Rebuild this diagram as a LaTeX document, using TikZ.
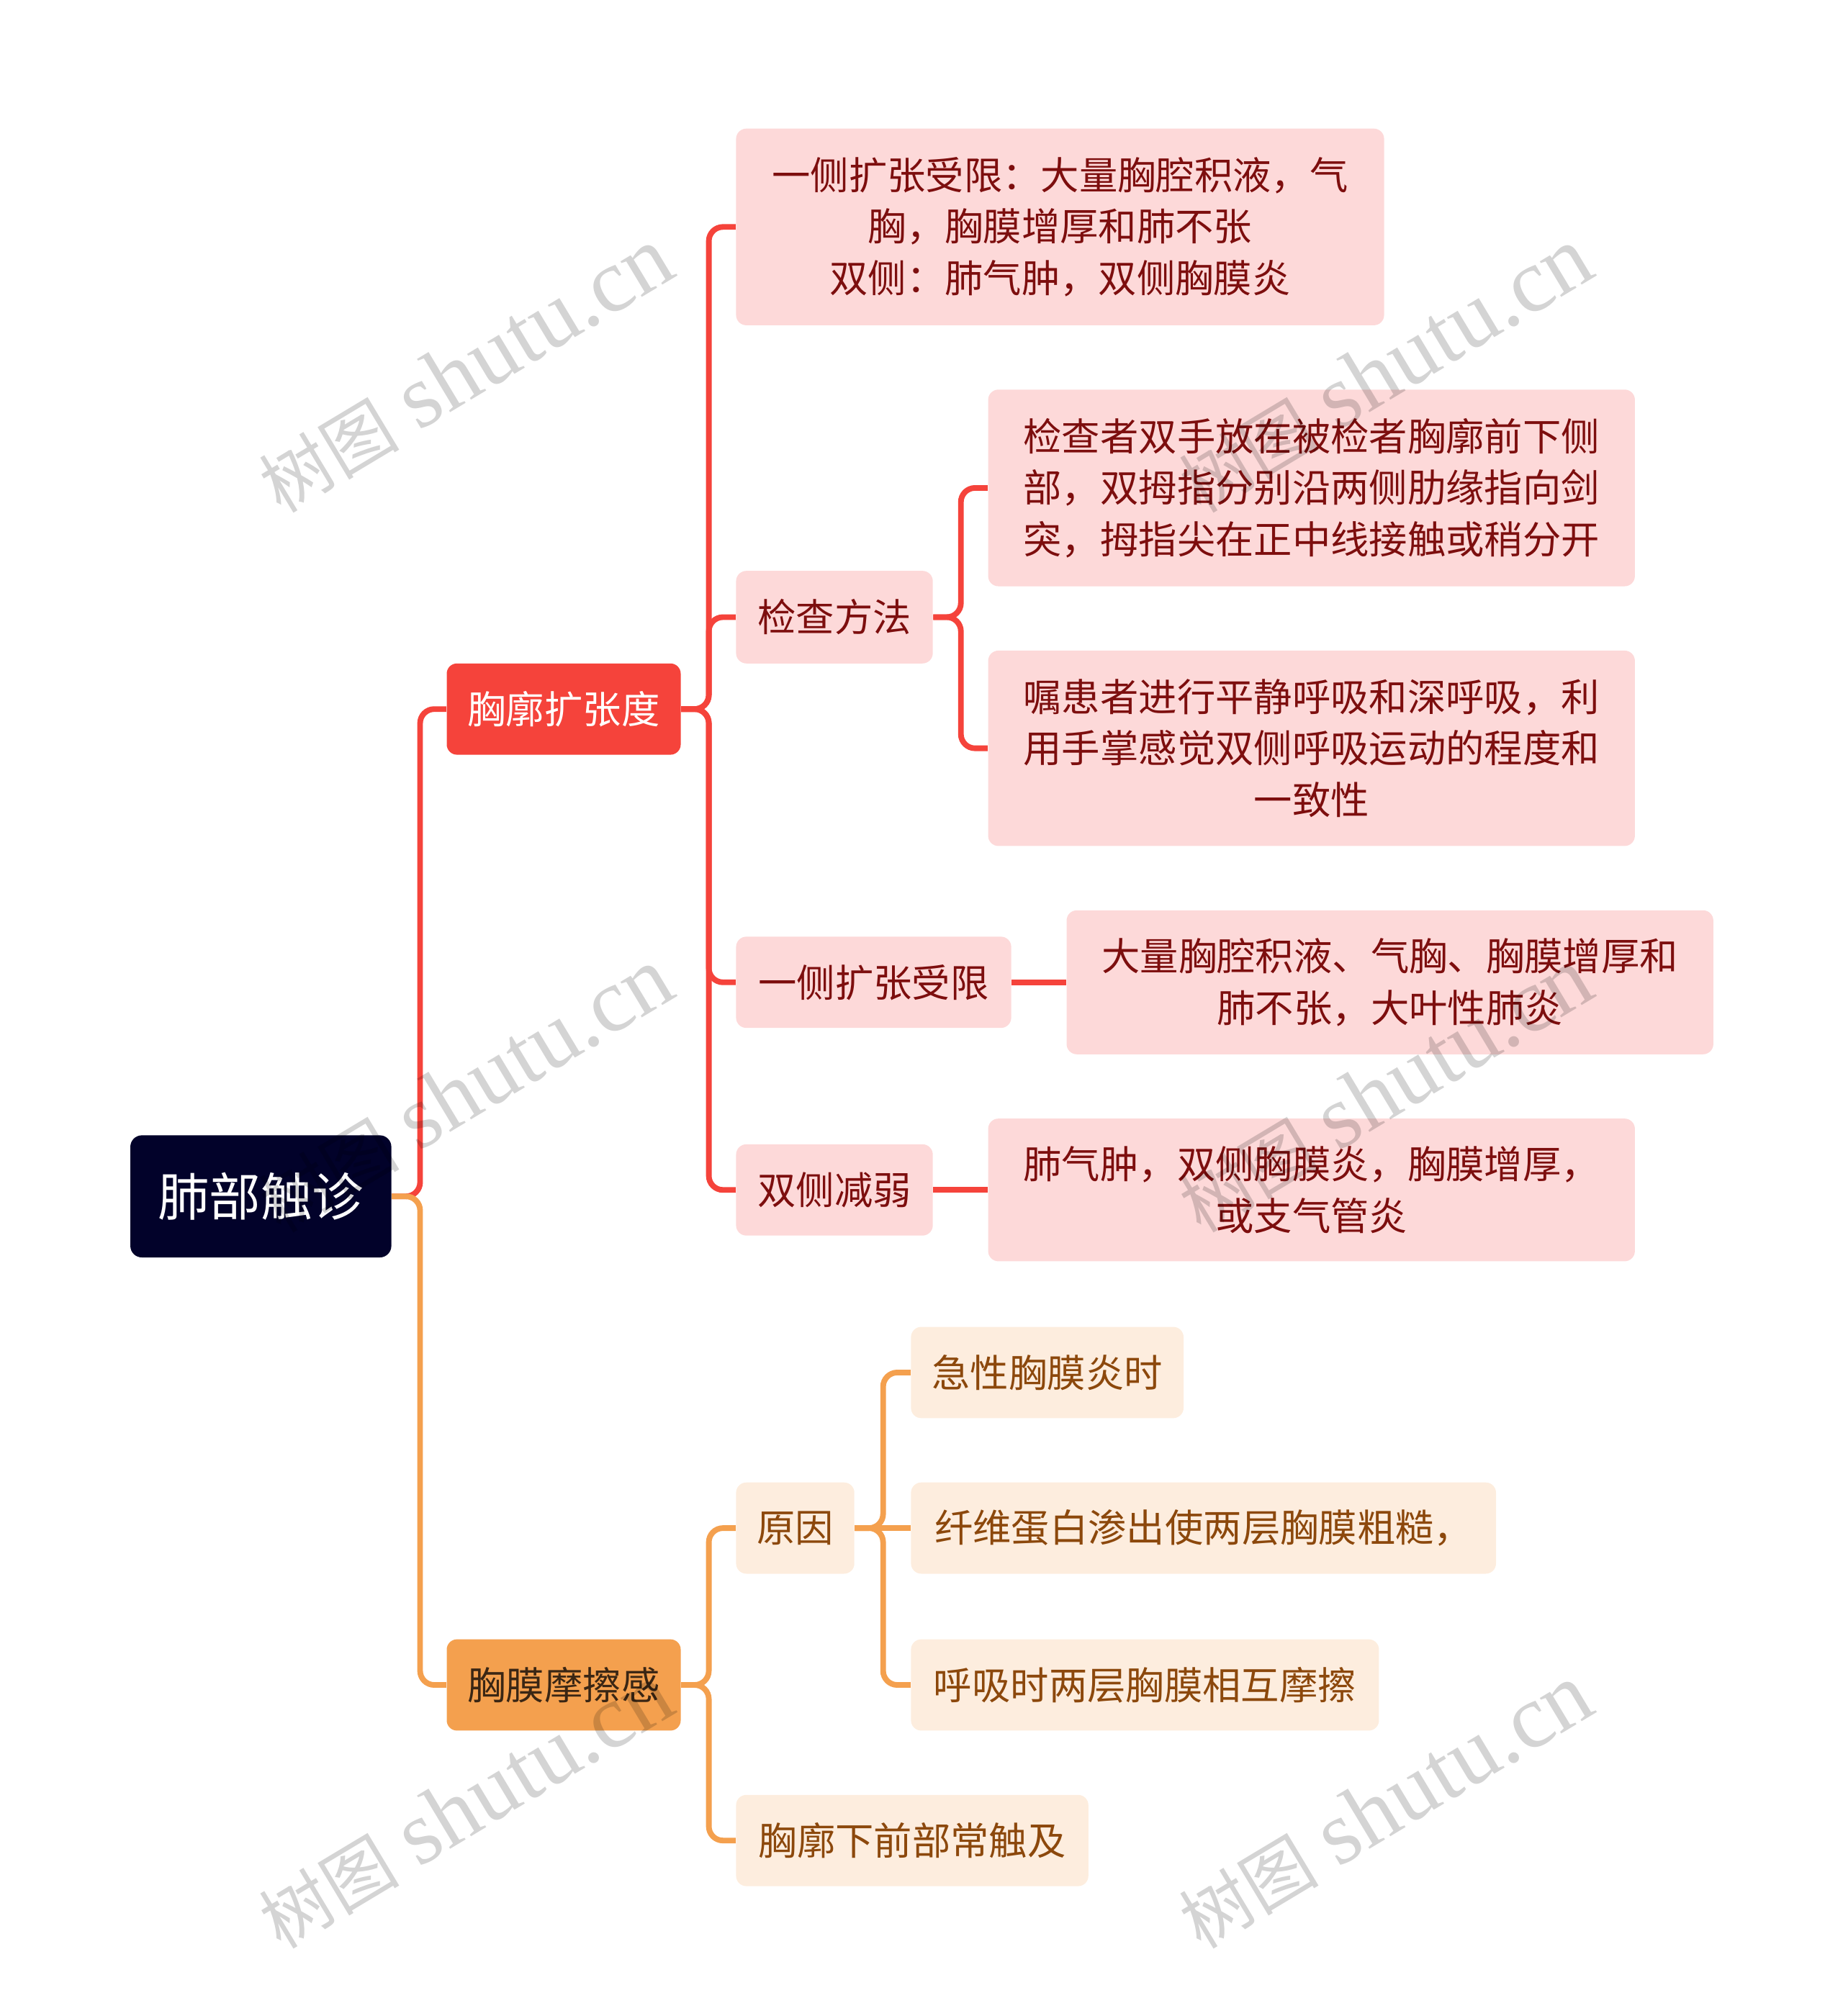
\documentclass[tikz,border=0pt]{standalone}
\usepackage{fontspec}
\setmainfont{Noto Sans CJK SC}
\newfontfamily\markfont{Liberation Serif}
\definecolor{rootfill}{RGB}{2, 2, 42}
\definecolor{branchred}{RGB}{245, 67, 59}
\definecolor{softred}{RGB}{253, 217, 217}
\definecolor{deepred}{RGB}{125, 14, 14}
\definecolor{branchorange}{RGB}{244, 160, 78}
\definecolor{softorange}{RGB}{253, 237, 222}
\definecolor{deeporange}{RGB}{140, 72, 12}
\definecolor{darkbrown}{RGB}{58, 38, 20}
\newcommand{\markline}{{\fontsize{31pt}{34pt}\selectfont 树图} {\markfont shutu.cn}}

\begin{document}
\begin{tikzpicture}[
	x=0.02cm, y=-0.02cm,
	% Styles for the boxes of each level
	rootbox/.style={fill=rootfill, text=white, rounded corners=0.18cm, anchor=west, inner sep=0pt, font=\fontsize{22.8pt}{28pt}\selectfont},
	redtopic/.style={fill=branchred, text=white, rounded corners=0.16cm, anchor=west, inner sep=0pt, font=\fontsize{17pt}{22.8pt}\selectfont},
	orangetopic/.style={fill=branchorange, text=darkbrown, rounded corners=0.16cm, anchor=west, inner sep=0pt, font=\fontsize{17pt}{22.8pt}\selectfont},
	redleaf/.style={fill=softred, text=deepred, rounded corners=0.16cm, anchor=west, inner sep=0pt, align=center, font=\fontsize{17pt}{22.8pt}\selectfont},
	orangeleaf/.style={fill=softorange, text=deeporange, rounded corners=0.16cm, anchor=west, inner sep=0pt, align=center, font=\fontsize{17pt}{22.8pt}\selectfont},
	% Styles for the connectors
	redlink/.style={draw=branchred, line width=2.5pt, rounded corners=0.22cm},
	orangelink/.style={draw=branchorange, line width=2.5pt, rounded corners=0.22cm},
	markword/.style={text=black, text opacity=0.17, rotate=31, font=\fontsize{40pt}{42pt}\selectfont}
	]
	\useasboundingbox (0, 0) rectangle (1433, 1568);
	
	% ==========================================
	% 1. ROOT
	% ==========================================
	\node[rootbox, minimum width=4.06cm, minimum height=1.9cm] (palp) at (101, 930.5) {肺部触诊};
	
	% ==========================================
	% 2. UPPER BRANCH (chest expansion)
	% ==========================================
	\node[redtopic, minimum width=3.64cm, minimum height=1.42cm] (expand) at (347, 551.5) {胸廓扩张度};
	
	\node[redleaf, minimum width=10.08cm, minimum height=3.06cm] (limitnote) at (572, 176.5)
		{一侧扩张受限：大量胸腔积液，气\\胸，胸膜增厚和肺不张\\双侧：肺气肿，双侧胸膜炎};
	\node[redleaf, minimum width=3.06cm, minimum height=1.44cm] (method) at (572, 480) {检查方法};
	\node[redleaf, minimum width=4.28cm, minimum height=1.42cm] (oneside) at (572, 764) {一侧扩张受限};
	\node[redleaf, minimum width=3.06cm, minimum height=1.42cm] (bothside) at (572, 925.5) {双侧减弱};
	
	% Method details
	\node[redleaf, minimum width=10.06cm, minimum height=3.06cm] (methodhands) at (768, 379.5)
		{检查者双手放在被检者胸廓前下侧\\部，双拇指分别沿两侧肋缘指向剑\\突，拇指尖在正中线接触或稍分开};
	\node[redleaf, minimum width=10.06cm, minimum height=3.04cm] (methodbreath) at (768, 582)
		{嘱患者进行平静呼吸和深呼吸，利\\用手掌感觉双侧呼吸运动的程度和\\一致性};
	
	% Causes of one side / both sides
	\node[redleaf, minimum width=10.06cm, minimum height=2.24cm] (onesidenote) at (829, 764)
		{大量胸腔积液、气胸、胸膜增厚和\\肺不张，大叶性肺炎};
	\node[redleaf, minimum width=10.06cm, minimum height=2.22cm] (bothsidenote) at (768, 925.5)
		{肺气肿，双侧胸膜炎，胸膜增厚，\\或支气管炎};
	
	% ==========================================
	% 3. LOWER BRANCH (pleural friction)
	% ==========================================
	\node[orangetopic, minimum width=3.64cm, minimum height=1.42cm] (friction) at (347, 1310.5) {胸膜摩擦感};
	
	\node[orangeleaf, minimum width=1.84cm, minimum height=1.42cm] (cause) at (572, 1188.5) {原因};
	\node[orangeleaf, minimum width=5.48cm, minimum height=1.42cm] (site) at (572, 1431.5) {胸廓下前部常触及};
	
	\node[orangeleaf, minimum width=4.24cm, minimum height=1.42cm] (causeacute) at (708, 1067.5) {急性胸膜炎时};
	\node[orangeleaf, minimum width=9.10cm, minimum height=1.42cm] (causefibrin) at (708, 1188.5) {纤维蛋白渗出使两层胸膜粗糙，};
	\node[orangeleaf, minimum width=7.28cm, minimum height=1.42cm] (causerub) at (708, 1310.5) {呼吸时两层胸膜相互摩擦};
	
	% ==========================================
	% 4. CONNECTORS
	% ==========================================
	\draw[redlink] (palp.east) -- ++(22, 0) |- (expand.west);
	\draw[orangelink] (palp.east) -- ++(22, 0) |- (friction.west);
	
	\draw[redlink] (expand.east) -- ++(21.5, 0) |- (limitnote.west);
	\draw[redlink] (expand.east) -- ++(21.5, 0) |- (method.west);
	\draw[redlink] (expand.east) -- ++(21.5, 0) |- (oneside.west);
	\draw[redlink] (expand.east) -- ++(21.5, 0) |- (bothside.west);
	
	\draw[redlink] (method.east) -- ++(21.5, 0) |- (methodhands.west);
	\draw[redlink] (method.east) -- ++(21.5, 0) |- (methodbreath.west);
	\draw[redlink] (oneside.east) -- (onesidenote.west);
	\draw[redlink] (bothside.east) -- (bothsidenote.west);
	
	\draw[orangelink] (friction.east) -- ++(21.5, 0) |- (cause.west);
	\draw[orangelink] (friction.east) -- ++(21.5, 0) |- (site.west);
	
	\draw[orangelink] (cause.east) -- ++(22, 0) |- (causeacute.west);
	\draw[orangelink] (cause.east) -- (causefibrin.west);
	\draw[orangelink] (cause.east) -- ++(22, 0) |- (causerub.west);
	
	% Watermarks
	\node[markword] (markA) at (362, 288) {\markline};
	\node[markword] (markB) at (1077, 288) {\markline};
	\node[markword] (markC) at (362, 848) {\markline};
	\node[markword] (markD) at (1077, 848) {\markline};
	\node[markword] (markE) at (362, 1405) {\markline};
	\node[markword] (markF) at (1077, 1405) {\markline};
	
\end{tikzpicture}
\end{document}
